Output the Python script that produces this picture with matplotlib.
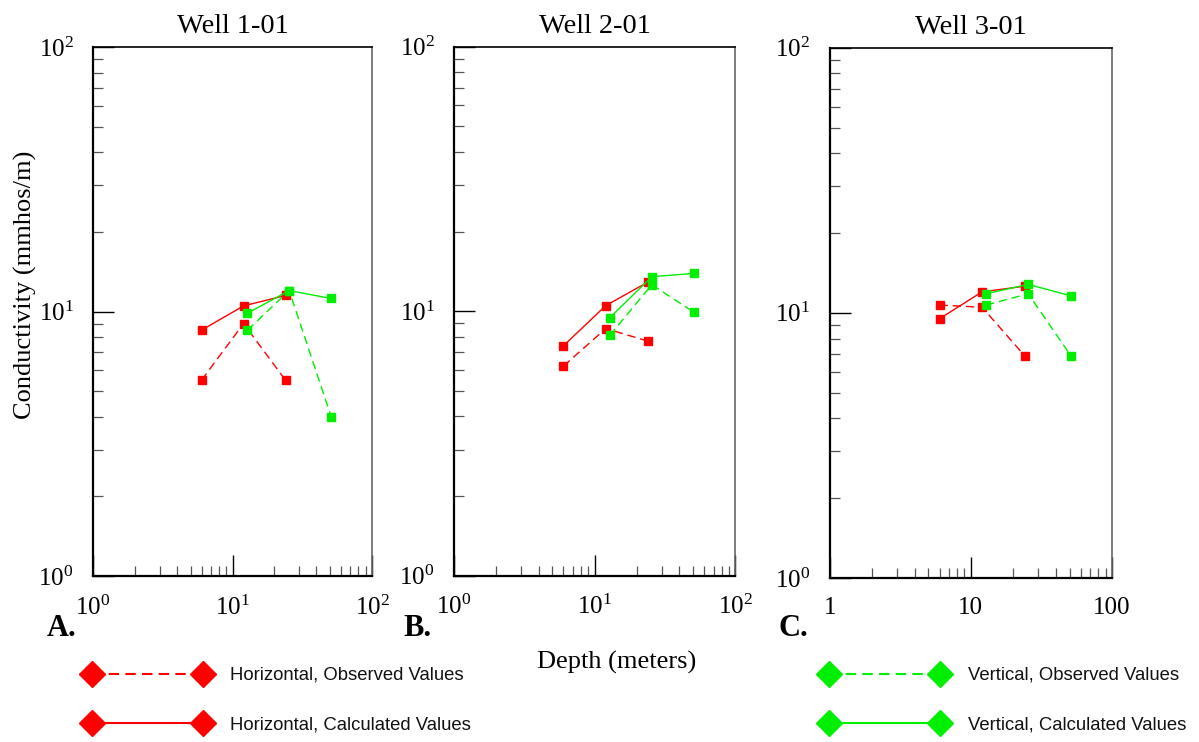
import matplotlib
matplotlib.use("Agg")
import matplotlib.pyplot as plt
from matplotlib.lines import Line2D
from matplotlib.ticker import LogLocator, NullFormatter, FixedLocator, FixedFormatter

plt.rcParams['font.family'] = ['Liberation Serif', 'DejaVu Serif']
plt.rcParams['mathtext.fontset'] = 'custom'
plt.rcParams['mathtext.rm'] = 'Liberation Serif'
plt.rcParams['mathtext.it'] = 'Liberation Serif:italic'

# ---------------- data ----------------
wells = ["Well 1-01", "Well 2-01", "Well 3-01"]
panel_letters = ["A.", "B.", "C."]

depth_horizontal = [6, 12, 24]
depth_vertical = [12.8, 25.5, 51]

h_obs = [[5.5, 9.0, 5.5], [6.2, 8.6, 7.7], [10.7, 10.5, 6.9]]
h_calc = [[8.5, 10.5, 11.5], [7.4, 10.5, 12.9], [9.5, 12.0, 12.6]]
v_obs = [[8.5, 12.0, 4.0], [8.1, 12.6, 9.9], [10.7, 11.8, 6.9]]
v_calc = [[9.85, 12.0, 11.2], [9.45, 13.5, 13.9], [11.8, 12.8, 11.6]]

legend_labels = ["Horizontal, Observed Values", "Horizontal, Calculated Values",
                 "Vertical, Observed Values", "Vertical, Calculated Values"]

RED = '#ff0000'
GREEN = '#00ee00'

W, H = 1199, 742
fig = plt.figure(figsize=(W / 100, H / 100), dpi=100)

# axes boxes in pixels (left, right, top, bottom)
boxes = [(93, 372, 47, 576), (454, 735.3, 46.7, 575.7), (829.7, 1112, 47.7, 578)]
letter_pos = [(62, 628), (418, 628), (793, 628)]

dash = (6, 3.5)
for i, (l, r, t, b) in enumerate(boxes):
    ax = fig.add_axes([l / W, 1 - b / H, (r - l) / W, (b - t) / H])
    ax.set_xscale('log')
    ax.set_yscale('log')
    ax.set_xlim(1, 100)
    ax.set_ylim(1, 100)

    ax.plot(depth_horizontal, h_obs[i], color=RED, lw=1.0, dashes=dash,
            marker='s', ms=6, mec=RED, mfc=RED)
    ax.plot(depth_horizontal, h_calc[i], color=RED, lw=1.0,
            marker='s', ms=6, mec=RED, mfc=RED)
    ax.plot(depth_vertical, v_obs[i], color=GREEN, lw=1.0, dashes=dash,
            marker='s', ms=6, mec=GREEN, mfc=GREEN)
    ax.plot(depth_vertical, v_calc[i], color=GREEN, lw=1.0,
            marker='s', ms=6, mec=GREEN, mfc=GREEN)

    ax.set_title(wells[i], fontsize=20.5, pad=10)

    ax.yaxis.set_major_locator(FixedLocator([1, 10, 100]))
    ax.yaxis.set_major_formatter(FixedFormatter([r'$10^0$', r'$10^1$', r'$10^2$']))
    ax.yaxis.set_minor_locator(LogLocator(base=10, subs=range(2, 10), numticks=20))
    ax.yaxis.set_minor_formatter(NullFormatter())

    ax.xaxis.set_major_locator(FixedLocator([1, 10, 100]))
    if i < 2:
        ax.xaxis.set_major_formatter(FixedFormatter([r'$10^0$', r'$10^1$', r'$10^2$']))
    else:
        ax.xaxis.set_major_formatter(FixedFormatter(['1', '10', '100']))
    ax.xaxis.set_minor_locator(LogLocator(base=10, subs=range(2, 10), numticks=20))
    ax.xaxis.set_minor_formatter(NullFormatter())

    ax.tick_params(which='major', direction='in', length=15, width=1.0,
                   labelsize=18, top=False, right=False)
    ax.tick_params(axis='x', which='major', pad=14)
    ax.tick_params(axis='y', which='major', pad=14)
    ax.tick_params(which='minor', direction='in', length=7.5, width=0.9,
                   color='#555555', top=False, right=False)
    for s in ['left', 'bottom']:
        ax.spines[s].set_linewidth(1.6)
    ax.spines['top'].set_linewidth(1.2)
    ax.spines['right'].set_linewidth(1.2)
    ax.spines['right'].set_color('#666666')

    lx, ly = letter_pos[i]
    fig.text(lx / W, 1 - ly / H, panel_letters[i], fontsize=22, fontweight='bold',
             ha='center', va='center')

fig.text(25 / W, 1 - 285 / H, "Conductivity (mmhos/m)", fontsize=19,
         rotation=90, ha='center', va='center')
fig.text(617 / W, 1 - 662 / H, "Depth (meters)", fontsize=19,
         ha='center', va='center')

# legend
leg_ax = fig.add_axes([0, 0, 1, 1], facecolor='none')
leg_ax.set_xlim(0, W)
leg_ax.set_ylim(H, 0)
leg_ax.axis('off')
leg_specs = [
    (92, 203, 673.5, RED, True, 230, legend_labels[0]),
    (92, 203, 722.5, RED, False, 230, legend_labels[1]),
    (829, 940, 673.5, GREEN, True, 968, legend_labels[2]),
    (829, 940, 722.5, GREEN, False, 968, legend_labels[3]),
]
for x1, x2, y, c, dashed, tx, lab in leg_specs:
    kw = dict(dashes=(5, 3)) if dashed else {}
    leg_ax.add_line(Line2D([x1, x2], [y, y], color=c, lw=1.5, marker='D',
                           ms=13, mec=c, mfc=c, **kw))
    leg_ax.text(tx, y + 2, lab, fontsize=13.3, family=['Liberation Sans', 'DejaVu Sans'],
                ha='left', va='center', color='#111111')

fig.savefig('out.png', dpi=100)
